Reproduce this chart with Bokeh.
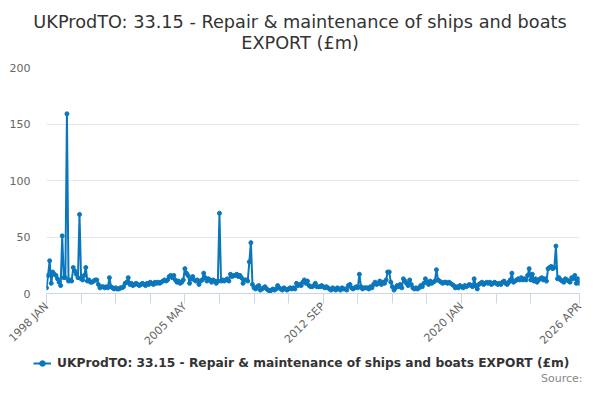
import math
from bokeh.plotting import figure
from bokeh.layouts import column
from bokeh.models import Div, FixedTicker, Label, Legend, LegendItem, Range1d
from bokeh.embed import file_html
from bokeh.resources import INLINE

title_lines = ["UKProdTO: 33.15 - Repair & maintenance of ships and boats", "EXPORT (£m)"]
series_name = "UKProdTO: 33.15 - Repair & maintenance of ships and boats EXPORT (£m)"
source_text = "Source:"
month_names = ["JAN", "FEB", "MAR", "APR", "MAY", "JUN", "JUL", "AUG", "SEP", "OCT", "NOV", "DEC"]
start_year = 1998

# monthly export values (£m)
v1998 = [5, 16, 29, 9, 19, 17, 16, 13, 10, 7, 51, 14]
v1999 = [14, 159, 11, 12, 11, 23, 20, 17, 14, 70, 13, 12]
v2000 = [16, 23, 11, 12, 10, 10, 11, 12, 12, 8, 5, 6]
v2001 = [6, 5, 6, 5, 14, 6, 5, 4, 5, 4, 4, 5]
v2002 = [5, 6, 9, 10, 14, 8, 9, 7, 8, 9, 8, 7]
v2003 = [8, 9, 8, 7, 9, 8, 10, 9, 8, 10, 9, 10]
v2004 = [9, 10, 11, 12, 11, 12, 15, 16, 14, 16, 12, 10]
v2005 = [11, 9, 10, 12, 22, 18, 16, 9, 13, 15, 12, 11]
v2006 = [12, 8, 11, 12, 18, 14, 11, 13, 12, 10, 12, 11]
v2007 = [9, 11, 71, 11, 12, 11, 12, 13, 11, 17, 15, 16]
v2008 = [16, 17, 15, 16, 14, 9, 12, 12, 11, 28, 45, 8]
v2009 = [5, 4, 6, 7, 3, 4, 5, 6, 4, 3, 2, 3]
v2010 = [4, 3, 4, 7, 5, 4, 3, 5, 4, 3, 4, 5]
v2011 = [4, 5, 4, 9, 7, 8, 7, 10, 12, 9, 11, 7]
v2012 = [6, 6, 7, 9, 6, 6, 6, 7, 6, 5, 6, 5]
v2013 = [4, 3, 5, 4, 3, 5, 4, 3, 5, 4, 4, 3]
v2014 = [7, 8, 5, 4, 5, 6, 5, 17, 6, 4, 5, 5]
v2015 = [5, 4, 6, 5, 8, 10, 8, 9, 11, 8, 10, 9]
v2016 = [12, 19, 19, 10, 6, 3, 5, 7, 6, 8, 5, 13]
v2017 = [11, 9, 7, 12, 8, 5, 4, 5, 4, 5, 7, 6]
v2018 = [9, 13, 10, 8, 11, 9, 10, 11, 21, 12, 11, 10]
v2019 = [9, 10, 10, 9, 10, 9, 8, 7, 5, 6, 5, 7]
v2020 = [6, 5, 7, 6, 7, 8, 7, 6, 13, 7, 4, 8]
v2021 = [9, 10, 8, 9, 10, 9, 10, 8, 9, 10, 9, 8]
v2022 = [9, 8, 10, 11, 9, 8, 10, 12, 18, 10, 11, 12]
v2023 = [13, 12, 14, 12, 13, 12, 16, 22, 12, 17, 11, 13]
v2024 = [10, 12, 13, 14, 12, 13, 11, 22, 23, 24, 22, 23]
v2025 = [42, 13, 14, 12, 11, 10, 13, 12, 11, 10, 14, 13]
v2026 = [16, 9, 13, 9]

values = (v1998 + v1999 + v2000 + v2001 + v2002 + v2003 + v2004 + v2005 + v2006 + v2007
          + v2008 + v2009 + v2010 + v2011 + v2012 + v2013 + v2014 + v2015 + v2016 + v2017
          + v2018 + v2019 + v2020 + v2021 + v2022 + v2023 + v2024 + v2025 + v2026)
months = list(range(len(values)))
month_labels = ["%d %s" % (start_year + i // 12, month_names[i % 12]) for i in months]

tick_months = [0, 22, 44, 66, 88, 110, 132, 154, 176, 198, 220, 242, 264, 286, 308, 339]
labelled_months = [0, 88, 176, 264, 339]
y_ticks = [0, 50, 100, 150, 200]

blue = "#0a77bd"
grey = "#666666"
axis_col = "#ccd6eb"
font = "DejaVu Sans"

# two centred title lines
head = Div(text="<br>".join(title_lines), width=584, height=60, margin=(0, 0, 0, 0),
           styles={"text-align": "center", "font-family": "'DejaVu Sans'", "font-size": "17.7px",
                   "line-height": "21px", "color": "#333333", "padding-top": "12px",
                   "padding-left": "16px", "box-sizing": "border-box"})

p = figure(width=584, height=295, output_backend="svg", toolbar_location=None,
           x_range=Range1d(0, months[-1]), y_range=Range1d(0, 200),
           min_border_left=46, min_border_right=5, min_border_top=7, min_border_bottom=62,
           outline_line_color=None)

p.line(months, values, line_color=blue, line_width=2)
p.scatter(months, values, size=4, color=blue)

# x axis
p.xgrid.grid_line_color = None
p.xaxis.ticker = FixedTicker(ticks=tick_months, minor_ticks=[])
p.xaxis.major_label_overrides = {m: (month_labels[m] if m in labelled_months else "") for m in tick_months}
p.xaxis.major_label_orientation = math.pi / 4
p.xaxis.axis_line_color = axis_col
p.xaxis.major_tick_line_color = axis_col
p.xaxis.major_tick_out = 10
p.xaxis.major_tick_in = 0
p.xaxis.minor_tick_line_color = None
p.xaxis.major_label_text_font = font
p.xaxis.major_label_text_font_size = "11px"
p.xaxis.major_label_text_color = grey
p.xaxis.major_label_standoff = 1

# y axis
p.yaxis.ticker = FixedTicker(ticks=y_ticks, minor_ticks=[])
p.yaxis.axis_line_color = None
p.yaxis.major_tick_line_color = None
p.yaxis.major_tick_out = 0
p.yaxis.major_tick_in = 0
p.yaxis.minor_tick_line_color = None
p.yaxis.major_label_text_font = font
p.yaxis.major_label_text_font_size = "11px"
p.yaxis.major_label_text_color = grey
p.yaxis.major_label_standoff = 16
p.ygrid.grid_line_color = "#e6e6e6"
p.ygrid.ticker = FixedTicker(ticks=y_ticks[1:])

# strip under the chart holding the legend and the source note
foot = figure(width=584, height=29, output_backend="svg", toolbar_location=None,
              x_axis_type=None, y_axis_type=None, min_border=0, outline_line_color=None,
              x_range=Range1d(0, 1), y_range=Range1d(1000, 1001))
free_frame = "frame_align" in foot.properties()
if free_frame:
    foot.frame_align = False
x0 = 0 if free_frame else 46

# same series, kept out of view: only their legend glyphs show
k_line = foot.line(months, values, line_color=blue, line_width=2)
k_dot = foot.scatter(months, values, size=4, color=blue)
legend = Legend(items=[LegendItem(label=series_name, renderers=[k_line, k_dot])],
                location=(max(0, 33 - x0), 14), orientation="horizontal", padding=0, margin=0,
                border_line_color=None, background_fill_alpha=0,
                label_text_font=font, label_text_font_style="bold",
                label_text_font_size="12.25px", label_text_color="#333333",
                glyph_width=18, glyph_height=14, label_standoff=6, label_height=14)
foot.add_layout(legend)
foot.add_layout(Label(x=582 - x0 if free_frame else 532, y=6, x_units="screen", y_units="screen",
                      text=source_text, text_align="right", text_baseline="alphabetic",
                      text_font=font, text_font_size="11px", text_color="#888888"))

page = column(head, p, foot, spacing=0)
open("out.html", "w").write(file_html(page, INLINE))
